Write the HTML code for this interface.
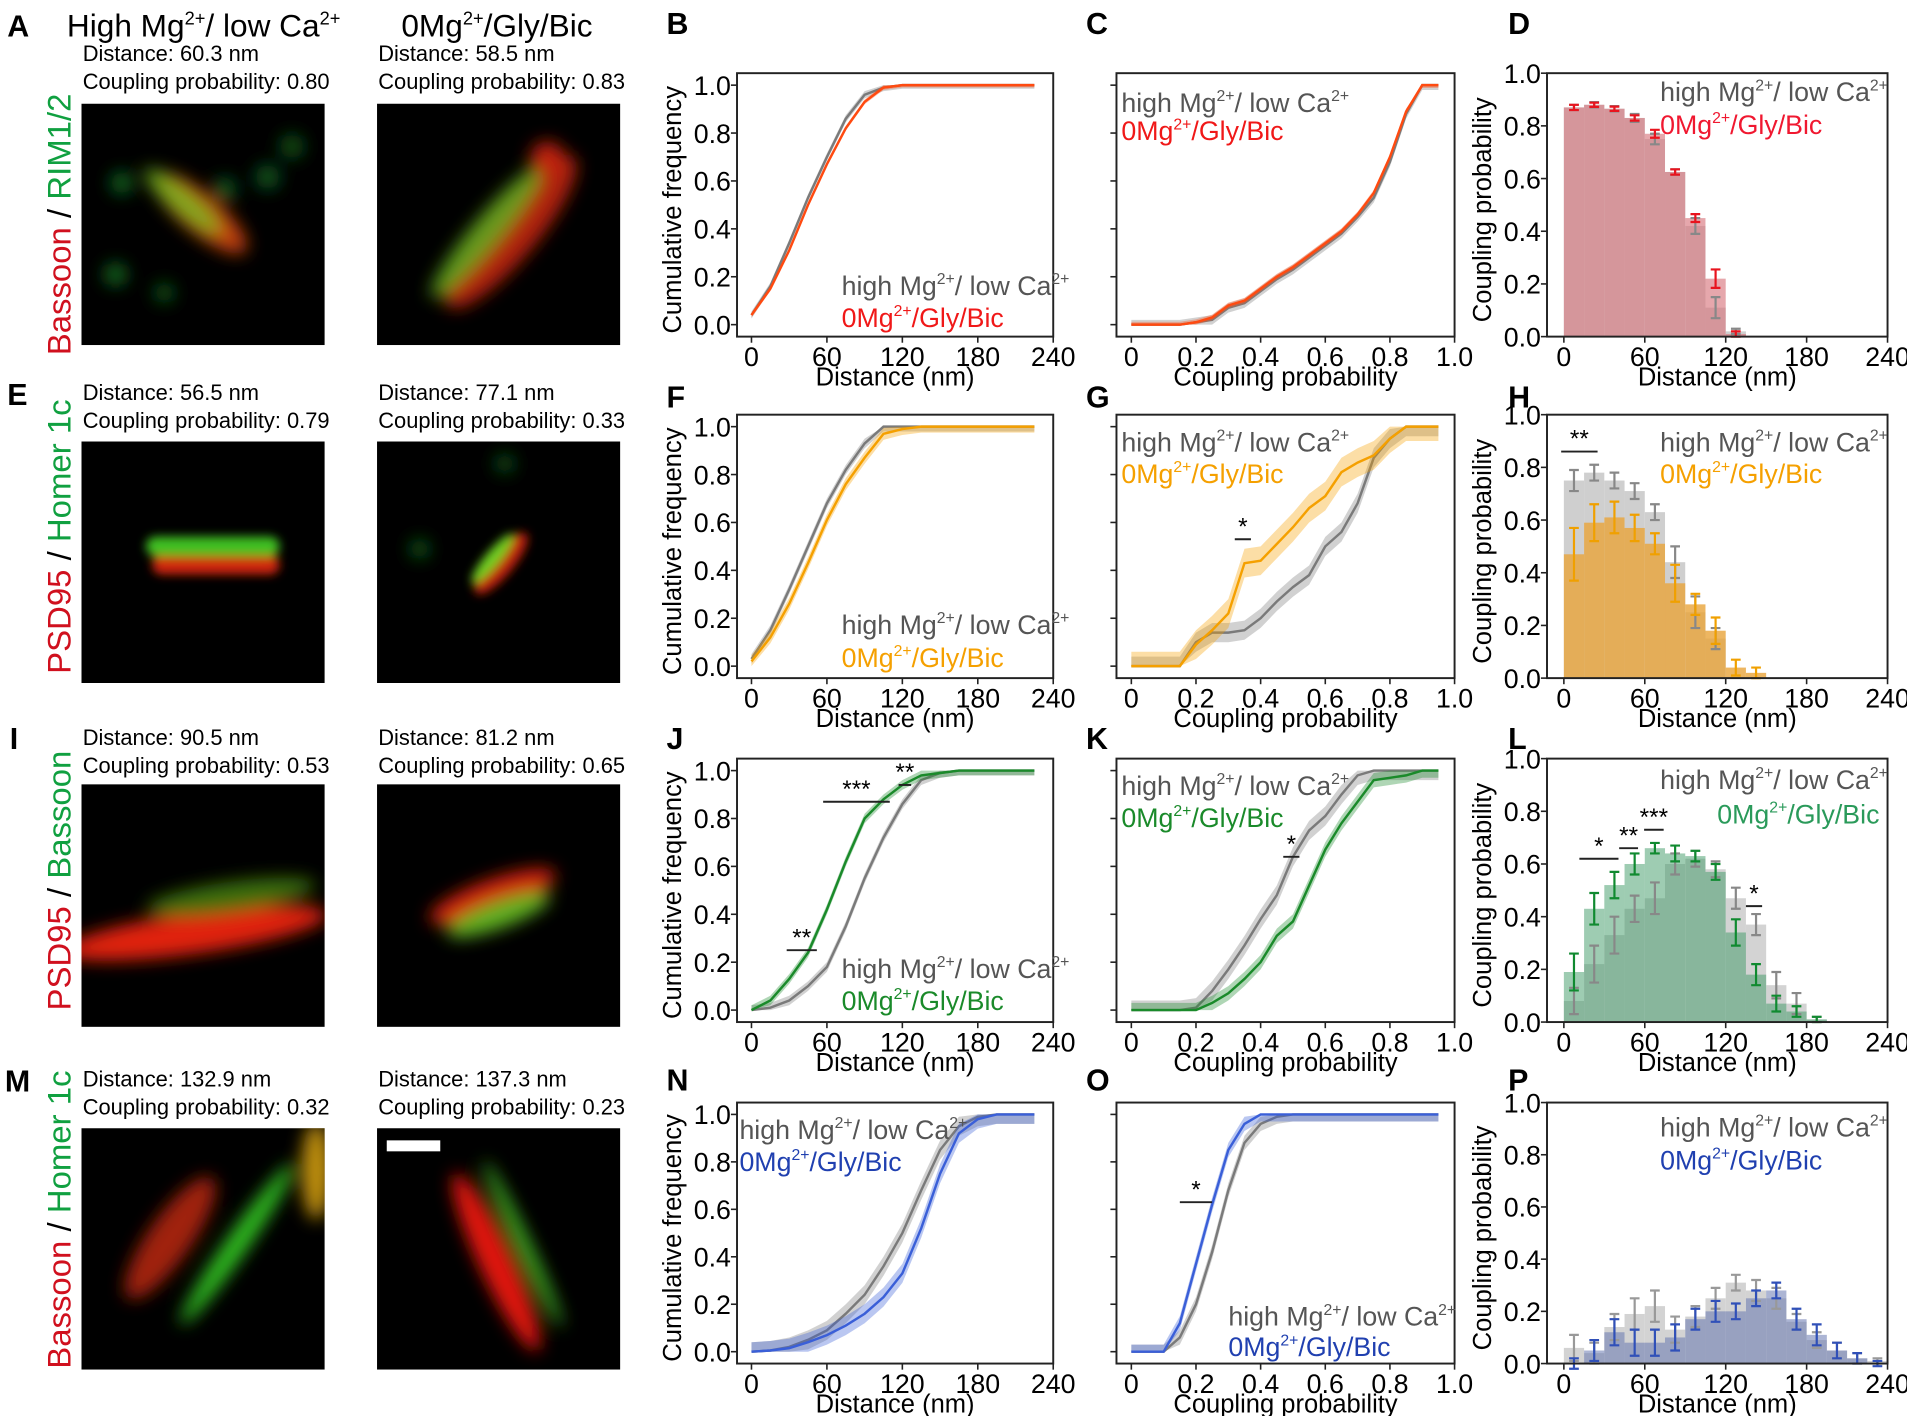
<!DOCTYPE html>
<html><head><meta charset="utf-8"><style>
html,body{margin:0;padding:0;background:#fff;}
svg{display:block;font-family:"Liberation Sans",Arial,sans-serif;}
</style></head><body>
<svg id="fig" width="1907" height="1416" viewBox="0 0 1568 1161" preserveAspectRatio="none" xmlns="http://www.w3.org/2000/svg">
<defs>
<filter id="bl" x="-50%" y="-50%" width="200%" height="200%"><feGaussianBlur stdDeviation="7"/></filter>
<filter id="bs" x="-50%" y="-50%" width="200%" height="200%"><feGaussianBlur stdDeviation="4"/></filter>
<clipPath id="c1"><rect x="67" y="85" width="200" height="198"/></clipPath>
<clipPath id="c2"><rect x="310" y="85" width="200" height="198"/></clipPath>
<clipPath id="c3"><rect x="67" y="362" width="200" height="198"/></clipPath>
<clipPath id="c4"><rect x="310" y="362" width="200" height="198"/></clipPath>
<clipPath id="c5"><rect x="67" y="643" width="200" height="199"/></clipPath>
<clipPath id="c6"><rect x="310" y="643" width="200" height="199"/></clipPath>
<clipPath id="c7"><rect x="67" y="925" width="200" height="198"/></clipPath>
<clipPath id="c8"><rect x="310" y="925" width="200" height="198"/></clipPath>
</defs>

<text x="6" y="30" font-size="25" font-weight="bold">A</text>
<text x="55" y="30" font-size="26">High Mg<tspan font-size="15" dy="-10">2+</tspan><tspan dy="10">/ low Ca</tspan><tspan font-size="15" dy="-10">2+</tspan></text>
<text x="330" y="30" font-size="26">0Mg<tspan font-size="15" dy="-10">2+</tspan><tspan dy="10">/Gly/Bic</tspan></text>

<g font-size="18">
<text x="68" y="50">Distance: 60.3 nm</text><text x="68" y="73">Coupling probability: 0.80</text>
<text x="311" y="50">Distance: 58.5 nm</text><text x="311" y="73">Coupling probability: 0.83</text></g>
<g font-size="18">
<text x="68" y="328">Distance: 56.5 nm</text><text x="68" y="351">Coupling probability: 0.79</text>
<text x="311" y="328">Distance: 77.1 nm</text><text x="311" y="351">Coupling probability: 0.33</text></g>
<g font-size="18">
<text x="68" y="611">Distance: 90.5 nm</text><text x="68" y="634">Coupling probability: 0.53</text>
<text x="311" y="611">Distance: 81.2 nm</text><text x="311" y="634">Coupling probability: 0.65</text></g>
<g font-size="18">
<text x="68" y="891">Distance: 132.9 nm</text><text x="68" y="914">Coupling probability: 0.32</text>
<text x="311" y="891">Distance: 137.3 nm</text><text x="311" y="914">Coupling probability: 0.23</text></g>

<text x="6" y="332" font-size="25" font-weight="bold">E</text>
<text x="8" y="614" font-size="25" font-weight="bold">I</text>
<text x="4" y="895" font-size="25" font-weight="bold">M</text>

<text transform="translate(58,184) rotate(-90)" text-anchor="middle" font-size="27"><tspan fill="#d0101e">Bassoon</tspan><tspan fill="#000"> / </tspan><tspan fill="#10a040">RIM1/2</tspan></text>
<text transform="translate(58,440) rotate(-90)" text-anchor="middle" font-size="27"><tspan fill="#d0101e">PSD95</tspan><tspan fill="#000"> / </tspan><tspan fill="#10a040">Homer 1c</tspan></text>
<text transform="translate(58,722) rotate(-90)" text-anchor="middle" font-size="27"><tspan fill="#d0101e">PSD95</tspan><tspan fill="#000"> / </tspan><tspan fill="#10a040">Bassoon</tspan></text>
<text transform="translate(58,1000) rotate(-90)" text-anchor="middle" font-size="27"><tspan fill="#d0101e">Bassoon</tspan><tspan fill="#000"> / </tspan><tspan fill="#10a040">Homer 1c</tspan></text>

<g clip-path="url(#c1)">
<rect x="67" y="85" width="200" height="198" fill="#000"/>
<g filter="url(#bl)"><ellipse cx="165" cy="175" rx="48" ry="16" fill="#c04010" transform="rotate(40 165 175)"/>
<ellipse cx="150" cy="165" rx="40" ry="10" fill="#70c020" opacity=".8" transform="rotate(40 150 165)"/>
<circle cx="100" cy="150" r="9" fill="#106a20"/><circle cx="220" cy="145" r="10" fill="#105a20"/><circle cx="240" cy="120" r="10" fill="#0e5018"/><circle cx="95" cy="225" r="9" fill="#127020"/><circle cx="135" cy="240" r="8" fill="#0e5a18"/><circle cx="185" cy="155" r="9" fill="#106020"/></g></g>
<g clip-path="url(#c2)">
<rect x="310" y="85" width="200" height="198" fill="#000"/>
<g filter="url(#bl)"><ellipse cx="420" cy="190" rx="80" ry="22" fill="#b02010" transform="rotate(-50 420 190)"/>
<ellipse cx="400" cy="190" rx="70" ry="12" fill="#60b020" opacity=".85" transform="rotate(-50 400 190)"/>
<circle cx="450" cy="130" r="14" fill="#c02010"/></g></g>
<g clip-path="url(#c3)">
<rect x="67" y="362" width="200" height="198" fill="#000"/>
<g filter="url(#bs)"><rect x="125" y="455" width="105" height="16" rx="8" fill="#d02810"/><rect x="120" y="440" width="110" height="16" rx="8" fill="#40c020"/></g></g>
<g clip-path="url(#c4)">
<rect x="310" y="362" width="200" height="198" fill="#000"/>
<g filter="url(#bs)"><ellipse cx="412" cy="462" rx="32" ry="10" fill="#c02010" transform="rotate(-50 412 462)"/><ellipse cx="405" cy="458" rx="26" ry="6" fill="#70d020" transform="rotate(-50 405 458)"/></g>
<g filter="url(#bl)"><circle cx="345" cy="450" r="8" fill="#0e5a18"/><circle cx="415" cy="380" r="8" fill="#0e5018"/></g></g>
<g clip-path="url(#c5)">
<rect x="67" y="643" width="200" height="199" fill="#000"/>
<g filter="url(#bl)"><ellipse cx="160" cy="765" rx="110" ry="17" fill="#e02010" transform="rotate(-8 160 765)"/><ellipse cx="190" cy="735" rx="70" ry="12" fill="#4a8a10" opacity=".8" transform="rotate(-8 190 735)"/></g></g>
<g clip-path="url(#c6)">
<rect x="310" y="643" width="200" height="199" fill="#000"/>
<g filter="url(#bl)"><ellipse cx="405" cy="735" rx="55" ry="14" fill="#d02010" transform="rotate(-20 405 735)"/><ellipse cx="410" cy="750" rx="45" ry="11" fill="#60b020" transform="rotate(-20 410 750)"/></g></g>
<g clip-path="url(#c7)">
<rect x="67" y="925" width="200" height="198" fill="#000"/>
<g filter="url(#bl)"><ellipse cx="140" cy="1015" rx="60" ry="18" fill="#a02010" transform="rotate(-55 140 1015)"/><ellipse cx="195" cy="1020" rx="80" ry="9" fill="#30c020" transform="rotate(-55 195 1020)"/><ellipse cx="260" cy="960" rx="12" ry="40" fill="#c09010"/></g></g>
<g clip-path="url(#c8)">
<rect x="310" y="925" width="200" height="198" fill="#000"/>
<g filter="url(#bl)"><ellipse cx="408" cy="1035" rx="80" ry="14" fill="#e01810" transform="rotate(65 408 1035)"/><ellipse cx="430" cy="1020" rx="75" ry="6" fill="#40b020" transform="rotate(65 430 1020)"/></g>
<rect x="318" y="935" width="44" height="9" fill="#fff"/></g>

<g id="charts"></g>
</svg>
<script>
// ---------- data ----------
const cumDist = [0,15,30,45,60,75,90,105,120,135,150,165,180,195,210,225];
const cumProb = [0,0.05,0.1,0.15,0.2,0.25,0.3,0.35,0.4,0.45,0.5,0.55,0.6,0.65,0.7,0.75,0.8,0.85,0.9,0.95];
const distTicks = [0,60,120,180,240];
const probTicks = [0,0.2,0.4,0.6,0.8,1.0];
const probTickLabels = ["0","0.2","0.4","0.6","0.8","1.0"];
const yTicks = [0,0.2,0.4,0.6,0.8,1.0];
const yTickLabels = ["0.0","0.2","0.4","0.6","0.8","1.0"];
const binWidth = 15;

const B_gray = [.04,.16,.34,.53,.70,.86,.96,.99,1,1,1,1,1,1,1,1];
const B_red  = [.04,.15,.31,.50,.67,.82,.93,.99,1,1,1,1,1,1,1,1];
const F_gray = [.03,.15,.32,.50,.68,.82,.93,1,1,1,1,1,1,1,1,1];
const F_orange = [.02,.12,.26,.43,.61,.76,.87,.97,.99,1,1,1,1,1,1,1];
const J_gray = [0,.01,.04,.10,.18,.35,.55,.72,.86,.96,.99,1,1,1,1,1];
const J_green = [0,.04,.13,.24,.42,.62,.80,.88,.94,.98,.99,1,1,1,1,1];
const N_gray = [0,.005,.02,.05,.09,.16,.24,.36,.50,.68,.85,.95,.99,1,1,1];
const N_blue = [0,.005,.015,.04,.07,.11,.16,.23,.33,.52,.75,.92,.98,1,1,1];

const C_gray = [0,0,0,0,.01,.02,.07,.09,.14,.19,.23,.28,.33,.38,.45,.53,.68,.88,1,1];
const C_red  = [0,0,0,0,.01,.03,.08,.10,.15,.20,.24,.29,.34,.39,.46,.55,.70,.89,1,1];
const G_gray = [0,0,0,0,.10,.14,.14,.15,.20,.27,.33,.38,.50,.56,.68,.87,.95,1,1,1];
const G_orange = [0,0,0,0,.09,.15,.22,.43,.44,.51,.58,.66,.71,.81,.85,.88,.95,1,1,1];
const K_gray = [0,0,0,0,.01,.08,.17,.27,.38,.48,.64,.75,.81,.90,.98,1,1,1,1,1];
const K_green = [0,0,0,0,0,.03,.07,.13,.20,.31,.37,.52,.67,.78,.87,.96,.97,.98,1,1];
const O_gray = [0,0,0,.06,.20,.42,.68,.88,.96,.99,1,1,1,1,1,1,1,1,1,1];
const O_blue = [0,0,0,.12,.37,.62,.85,.96,1,1,1,1,1,1,1,1,1,1,1,1];

const D_gray = [.87,.88,.865,.83,.75,.625,.42,.11,.02];
const D_red  = [.87,.88,.865,.83,.77,.625,.45,.22,.01];
const D_grayErr = [.01,.01,.01,.015,.02,.01,.03,.04,.01];
const D_redErr  = [.01,.008,.008,.01,.015,.01,.015,.035,.01];
const H_gray = [.75,.78,.75,.71,.63,.44,.25,.15];
const H_orange = [.47,.59,.61,.57,.51,.36,.28,.18,.04,.02];
const H_grayErr = [.04,.03,.03,.03,.03,.06,.06,.04];
const H_orangeErr = [.10,.07,.06,.05,.04,.07,.04,.05,.03,.02];
const L_gray = [.08,.22,.33,.43,.47,.60,.62,.58,.47,.37,.14,.07,.01];
const L_green = [.19,.43,.52,.60,.66,.64,.63,.57,.34,.18,.07,.04,.01];
const L_grayErr = [.05,.07,.07,.05,.06,.04,.03,.03,.04,.04,.05,.04,.01];
const L_greenErr = [.07,.06,.05,.04,.02,.03,.02,.03,.05,.04,.03,.02,.01];
const P_gray = [.06,.04,.14,.19,.22,.13,.18,.25,.31,.28,.25,.16,.09,.05,.02,.01];
const P_blue = [0,.05,.12,.08,.08,.10,.17,.20,.20,.25,.28,.17,.11,.05,.02,0];
const P_grayErr = [.05,.04,.05,.06,.06,.05,.04,.04,.03,.04,.04,.03,.03,.03,.02,.01];
const P_blueErr = [.02,.04,.05,.05,.05,.05,.04,.04,.03,.03,.03,.04,.04,.03,.02,.01];

// ---------- layout ----------
const NS='http://www.w3.org/2000/svg';
const root=document.getElementById('charts');
function el(tag,attrs,parent){const e=document.createElementNS(NS,tag);for(const k in attrs)e.setAttribute(k,attrs[k]);(parent||root).appendChild(e);return e;}
const COLS={cum:{l:606,r:866,xmin:-11.5,xmax:240},prob:{l:918,r:1196,xmin:-0.046,xmax:1.0},hist:{l:1272,r:1552,xmin:-12.5,xmax:240}};
const ROWS=[{t:60,b:276},{t:340,b:556},{t:622,b:838},{t:904,b:1118}];

function axes(col,row,histo){
  const c=COLS[col],r=ROWS[row];
  const ymin=histo?0:-0.05, ymax=histo?1:1.05;
  const X=v=>c.l+(v-c.xmin)/(c.xmax-c.xmin)*(c.r-c.l);
  const Y=v=>r.b-(v-ymin)/(ymax-ymin)*(r.b-r.t);
  return {X,Y,c,r};
}
function frame(g,a,kind,name){
  const {c,r,X,Y}=a;
  const fr=el('rect',{x:c.l,y:r.t,width:c.r-c.l,height:r.b-r.t,fill:'none',stroke:'#222','stroke-width':1.6},g);
  
  
  const xt = kind==='prob'?probTicks:distTicks;
  const xl = kind==='prob'?probTickLabels:distTicks.map(String);
  xt.forEach((v,i)=>{
    el('line',{x1:X(v),x2:X(v),y1:r.b,y2:r.b+5,stroke:'#222','stroke-width':1.3},g);
    const t=el('text',{x:X(v),y:r.b+24,'text-anchor':'middle','font-size':22},g);t.textContent=xl[i];
    
    
  });
  yTicks.forEach((v,i)=>{
    el('line',{x1:c.l-5,x2:c.l,y1:Y(v),y2:Y(v),stroke:'#222','stroke-width':1.3},g);
    if(kind!=='prob'){const t=el('text',{x:c.l-5,y:Y(v)+8,'text-anchor':'end','font-size':22},g);t.textContent=yTickLabels[i];
      
      }
  });
  const xt2=el('text',{x:(c.l+c.r)/2,y:r.b+40,'text-anchor':'middle','font-size':21},g);
  xt2.textContent = kind==='prob'?'Coupling probability':'Distance (nm)';
  
  
  if(kind!=='prob'){
    const yt=el('text',{transform:`translate(${c.l-46},${(r.t+r.b)/2+4}) rotate(-90)`,'text-anchor':'middle','font-size':21},g);
    yt.textContent = kind==='hist'?'Coupling probability':'Cumulative frequency';
    
    
  }
}
function letter(ch,x,y){const t=el('text',{x,y,'font-size':25,'font-weight':'bold'});t.textContent=ch;
  
  }
function legend(g,x,y1,y2,color,x2){
  const t1=el('text',{x,y:y1,'font-size':22,fill:'#555'},g);
  t1.innerHTML='high Mg<tspan font-size="13" dy="-9">2+</tspan><tspan dy="9">/ low Ca</tspan><tspan font-size="13" dy="-9">2+</tspan>';
  
  
  const t2=el('text',{x:x2||x,y:y2,'font-size':22,fill:color},g);
  t2.innerHTML='0Mg<tspan font-size="13" dy="-9">2+</tspan><tspan dy="9">/Gly/Bic</tspan>';
  
  
}
function curve(g,a,xs,ys,color,band,name){
  const {X,Y}=a;
  const up=xs.map((x,i)=>X(x)+','+Y(Math.min(1,ys[i]+band))).join(' ');
  const dn=xs.map((x,i)=>X(x)+','+Y(Math.max(0,ys[i]-band))).reverse().join(' ');
  if(band>0){const p=el('polygon',{points:up+' '+dn,fill:color,opacity:0.35},g);
    
    }
  const l=el('polyline',{points:xs.map((x,i)=>X(x)+','+Y(ys[i])).join(' '),fill:'none',stroke:color,'stroke-width':2},g);
  
  
}
function bars(g,a,vals,fill,op,name){
  const {X,Y}=a;
  vals.forEach((v,i)=>{
    const b=el('rect',{x:X(i*binWidth),y:Y(v),width:X((i+1)*binWidth)-X(i*binWidth),height:Y(0)-Y(v),fill,opacity:op},g);
    
    
  });
}
function errs(g,a,vals,err,color,name){
  const {X,Y}=a;
  vals.forEach((v,i)=>{
    const cx=X(i*binWidth+binWidth/2);
    const e=el('path',{d:`M${cx},${Y(v-err[i])}V${Y(v+err[i])}M${cx-4},${Y(v-err[i])}h8M${cx-4},${Y(v+err[i])}h8`,stroke:color,'stroke-width':1.8,fill:'none'},g);
    
    
  });
}
function sig(g,a,x1,x2,y,txt){
  const {X,Y}=a;
  el('line',{x1:X(x1),x2:X(x2),y1:Y(y),y2:Y(y),stroke:'#222','stroke-width':1.6},g);
  const t=el('text',{x:(X(x1)+X(x2))/2,y:Y(y)-4,'text-anchor':'middle','font-size':20},g);t.textContent=txt;
  
  
}
function panel(name){const g=el('g',{});return g;}

const GRAY='#7a7a7a', RED='#ff4a10', ORG='#f5a000', GRN='#1a8a2a', BLU='#3a5fd8';

// Row 1
letter('B',548,28);letter('C',893,28);letter('D',1240,28);
let g=panel('panel-b'),a=axes('cum',0,false);frame(g,a,'cum','panel-b');
curve(g,a,cumDist,B_gray,GRAY,0.015,'panel-b-control');curve(g,a,cumDist,B_red,RED,0.01,'panel-b-treatment');
legend(g,692,242,268,'#f01818');
g=panel('panel-c');a=axes('prob',0,false);frame(g,a,'prob','panel-c');
curve(g,a,cumProb,C_gray,GRAY,0.02,'panel-c-control');curve(g,a,cumProb,C_red,RED,0.012,'panel-c-treatment');
legend(g,922,92,115,'#f01818');
g=panel('panel-d');a=axes('hist',0,true);
bars(g,a,D_gray,'#cfcfcf',1,'panel-d-control');bars(g,a,D_red,'#d87880',0.65,'panel-d-treatment');
errs(g,a,D_gray,D_grayErr,'#888','panel-d-control');errs(g,a,D_red,D_redErr,'#e8141e','panel-d-treatment');
frame(g,a,'hist','panel-d');legend(g,1365,83,110,'#f01830');

// Row 2
letter('F',548,334);letter('G',893,334);letter('H',1240,334);
g=panel('panel-f');a=axes('cum',1,false);frame(g,a,'cum','panel-f');
curve(g,a,cumDist,F_gray,GRAY,0.02,'panel-f-control');curve(g,a,cumDist,F_orange,ORG,0.025,'panel-f-treatment');
legend(g,692,520,547,ORG);
g=panel('panel-g');a=axes('prob',1,false);frame(g,a,'prob','panel-g');
curve(g,a,cumProb,G_gray,GRAY,0.04,'panel-g-control');curve(g,a,cumProb,G_orange,ORG,0.06,'panel-g-treatment');
sig(g,a,0.32,0.37,0.53,'*');legend(g,922,370,396,ORG);
g=panel('panel-h');a=axes('hist',1,true);
bars(g,a,H_gray,'#cfcfcf',1,'panel-h-control');bars(g,a,H_orange,'#e8a43a',0.8,'panel-h-treatment');
errs(g,a,H_gray,H_grayErr,'#888','panel-h-control');errs(g,a,H_orange,H_orangeErr,'#f0a000','panel-h-treatment');
sig(g,a,-2,25,0.86,'**');frame(g,a,'hist','panel-h');legend(g,1365,370,396,ORG);

// Row 3
letter('J',548,614);letter('K',893,614);letter('L',1240,614);
g=panel('panel-j');a=axes('cum',2,false);frame(g,a,'cum','panel-j');
curve(g,a,cumDist,J_gray,GRAY,0.02,'panel-j-control');curve(g,a,cumDist,J_green,GRN,0.02,'panel-j-treatment');
sig(g,a,28,52,0.25,'**');sig(g,a,57,110,0.87,'***');sig(g,a,117,127,0.94,'**');
legend(g,692,802,828,GRN);
g=panel('panel-k');a=axes('prob',2,false);frame(g,a,'prob','panel-k');
curve(g,a,cumProb,K_gray,GRAY,0.04,'panel-k-control');curve(g,a,cumProb,K_green,GRN,0.03,'panel-k-treatment');
sig(g,a,0.47,0.52,0.64,'*');legend(g,922,652,678,GRN);
g=panel('panel-l');a=axes('hist',2,true);
bars(g,a,L_gray,'#d3d3d3',1,'panel-l-control');bars(g,a,L_green,'#3e9a66',0.5,'panel-l-treatment');
errs(g,a,L_gray,L_grayErr,'#888','panel-l-control');errs(g,a,L_green,L_greenErr,'#108a30','panel-l-treatment');
sig(g,a,11.5,40.5,0.62,'*');sig(g,a,41,55,0.66,'**');sig(g,a,59.5,74,0.73,'***');sig(g,a,135,147,0.44,'*');
frame(g,a,'hist','panel-l');legend(g,1365,647,675,'#2a9a5a',1412);

// Row 4
letter('N',548,894);letter('O',893,894);letter('P',1240,894);
g=panel('panel-n');a=axes('cum',3,false);frame(g,a,'cum','panel-n');
curve(g,a,cumDist,N_gray,GRAY,0.04,'panel-n-control');curve(g,a,cumDist,N_blue,BLU,0.04,'panel-n-treatment');
legend(g,608,934,960,'#2040b0');
g=panel('panel-o');a=axes('prob',3,false);frame(g,a,'prob','panel-o');
curve(g,a,cumProb,O_gray,GRAY,0.03,'panel-o-control');curve(g,a,cumProb,O_blue,BLU,0.03,'panel-o-treatment');
sig(g,a,0.15,0.25,0.63,'*');legend(g,1010,1087,1112,'#2040b0');
g=panel('panel-p');a=axes('hist',3,true);
bars(g,a,P_gray,'#d3d3d3',1,'panel-p-control');bars(g,a,P_blue,'#6878b0',0.55,'panel-p-treatment');
errs(g,a,P_gray,P_grayErr,'#999','panel-p-control');errs(g,a,P_blue,P_blueErr,'#3050b8','panel-p-treatment');
frame(g,a,'hist','panel-p');legend(g,1365,932,959,'#2040b0');
</script>
</body></html>
